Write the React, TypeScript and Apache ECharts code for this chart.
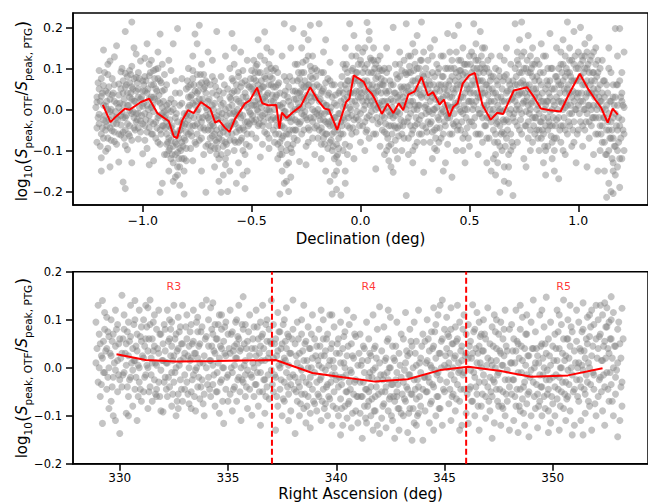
import React, { useEffect, useRef } from 'react';
import * as echarts from 'echarts';

// ---------- tick labels ----------
const decTicks = [-1, -0.5, 0, 0.5, 1];
const ratioTicksTop = [-0.2, -0.1, 0, 0.1, 0.2];
const raTicks = [330, 335, 340, 345, 350];
const ratioTicksBottom = [-0.2, -0.1, 0, 0.1, 0.2];

// ---------- running median (red) lines ----------
const decLineX = [-1.183, -1.148, -1.122, -1.081, -1.061, -1.008, -0.97, -0.933, -0.88, -0.857, -0.842, -0.819, -0.792, -0.766, -0.733, -0.69, -0.667, -0.649, -0.622, -0.601, -0.576, -0.531, -0.508, -0.475, -0.451, -0.425, -0.387, -0.372, -0.361, -0.339, -0.311, -0.274, -0.231, -0.198, -0.165, -0.145, -0.107, -0.066, -0.051, -0.031, 0.015, 0.03, 0.052, 0.067, 0.098, 0.124, 0.151, 0.176, 0.196, 0.219, 0.249, 0.28, 0.31, 0.333, 0.363, 0.383, 0.408, 0.426, 0.446, 0.469, 0.499, 0.525, 0.56, 0.598, 0.628, 0.655, 0.704, 0.765, 0.799, 0.828, 0.87, 0.919, 0.954, 1.007, 1.045, 1.083, 1.105, 1.135, 1.158, 1.181];
const decLineY = [0.011, -0.031, -0.017, 0.002, -0.001, 0.018, 0.026, -0.009, -0.029, -0.066, -0.07, -0.027, -0.002, -0.009, 0.018, 0.002, -0.032, -0.027, -0.045, -0.055, -0.023, 0.014, 0.022, 0.053, 0.015, 0.01, 0.011, -0.047, -0.008, -0.021, -0.007, 0.008, 0.054, 0.024, 0.002, -0.001, -0.05, 0.018, 0.026, 0.083, 0.067, 0.05, 0.038, 0.024, -0.011, 0.014, -0.009, 0.015, -0.002, 0.036, 0.044, 0.079, 0.034, 0.042, 0.012, 0.024, -0.017, 0.006, 0.015, 0.063, 0.083, 0.089, 0.011, -0.025, -0.008, -0.011, 0.046, 0.054, 0.028, 0.002, -0.002, -0.005, 0.034, 0.087, 0.05, 0.02, 0.004, -0.032, 0.002, -0.013];
const raLineX = [329.85, 331.2, 332.6, 334.5, 337.2, 338.9, 340.3, 341.8, 343.3, 344.8, 346.1, 347.6, 349.0, 350.7, 352.3];
const raLineY = [0.028, 0.016, 0.013, 0.014, 0.016, -0.011, -0.02, -0.029, -0.024, -0.005, 0.002, -0.007, -0.019, -0.016, -0.001];

// ---------- regions ----------
const regionNames = ['R3', 'R4', 'R5'];
const regionLabelRA = [332.5, 341.5, 350.5];
const regionLabelLevel = 0.169;
const regionBoundsRA = [337.03, 346.0];

// ---------- scatter: pairs [dec * 100, log-ratio * 1000] ----------
const decScatter = [
  -121,-45,-120,95,-120,-12,-119,32,-119,-118,-118,145,-118,58,-118,-70,-117,8,-117,-30,-116,110,-116,-95,-116,40,-115,-140,-115,-5,-114,75,-114,-52,-113,20,-113,128,-112,-20,-112,-85,-111,62,-111,-128,-111,5,-110,92,-110,-38,-110,-62,-112,155,-119,-150,-117,-102,-115,118,-113,-78,-121,18,
  -121,30,-121,-80,-120,50,-120,-35,-119,-60,-119,75,-118,-25,-118,10,-117,-50,-117,45,-116,-70,-116,0,-115,25,-115,-45,-114,-15,-114,35,-113,-55,-113,60,-112,-35,-112,15,-111,-60,-111,35,-110,-15,-110,50,-116,85,
  -109,12,-109,-55,-108,88,-108,-20,-108,190,-107,40,-107,-98,-106,-2,-106,65,-105,-130,-105,105,-105,25,-104,-45,-109,-177,-103,78,-103,-10,-103,135,-102,50,-102,-72,-105,213,-101,-28,-101,118,-100,8,-100,-108,-100,70,-108,-193,-106,-65,-104,150,-102,30,-108,-88,-105,55,
  -109,40,-109,-20,-108,-50,-108,55,-107,-35,-107,10,-107,80,-106,-40,-106,30,-105,-10,-105,-75,-104,20,-104,75,-103,-30,-103,45,-102,-10,-102,90,-101,-55,-101,25,-100,-35,-100,45,-104,-20,-106,95,-102,-45,-109,70,
  -99,45,-99,-40,-98,160,-98,10,-98,-95,-97,82,-97,-15,-96,120,-96,-60,-96,30,-95,-125,-95,60,-95,-5,-94,98,-94,-30,-93,140,-93,20,-93,-80,-92,184,-92,-50,-92,70,-92,-202,-91,5,-91,110,-90,-20,-90,-110,-90,48,-97,-135,-91,-180,-99,125,
  -99,-10,-99,80,-98,40,-98,-55,-97,25,-97,-45,-96,60,-96,5,-95,30,-95,-35,-94,50,-94,-70,-93,-20,-93,75,-92,15,-92,-85,-91,45,-91,-40,-90,85,-90,-5,-97,110,-93,100,-99,-75,-95,95,-91,-10,
  -89,-30,-89,60,-89,-110,-88,15,-88,-70,-88,-150,-87,95,-87,-45,-87,-5,-86,160,-86,-90,-86,-130,-85,-20,-85,-165,-85,40,-84,-60,-84,-105,-84,197,-83,-185,-83,10,-83,-140,-82,-35,-82,75,-82,-80,-81,-206,-81,-120,-81,-10,-80,50,-80,-55,-80,-95,-86,-175,-84,-160,-88,120,
  -89,-60,-89,10,-88,-40,-88,-100,-87,-75,-87,25,-86,-55,-86,0,-85,-80,-85,-110,-84,-30,-84,-140,-83,-95,-83,-50,-82,-120,-82,15,-81,-70,-81,-40,-80,-15,-80,-125,-87,-120,-85,70,-89,-85,-83,40,-81,-150,
  -79,30,-79,-60,-79,100,-78,-15,-78,60,-78,-95,-77,15,-77,130,-76,184,-76,-40,-76,45,-75,-5,-75,85,-74,205,-74,-75,-74,25,-73,-30,-73,110,-72,50,-72,-110,-71,-202,-71,5,-71,70,-70,-50,-70,140,-70,-20,-77,-125,-73,-150,-75,160,
  -79,-25,-79,55,-78,30,-78,-55,-77,-40,-77,75,-76,10,-76,-80,-75,40,-75,-35,-74,60,-74,-20,-73,-70,-73,15,-72,-45,-72,85,-71,-15,-71,40,-70,20,-70,-85,-77,95,-73,65,-79,5,-75,-60,-71,-90,
  -69,-40,-69,60,-69,-100,-68,10,-68,-65,-68,120,-67,-20,-67,-140,-66,190,-66,35,-66,-80,-65,-5,-65,-120,-64,80,-64,-45,-64,-202,-63,-160,-63,15,-63,-90,-62,-30,-62,130,-62,-120,-61,-200,-61,50,-61,-60,-60,-10,-60,-150,-60,100,-65,-175,-67,70,
  -69,-10,-69,-70,-68,40,-68,-35,-67,-95,-67,15,-66,-50,-66,-15,-65,-70,-65,45,-64,-20,-64,-110,-63,-55,-63,40,-62,-80,-62,0,-61,-40,-61,-105,-60,-75,-60,30,-67,-60,-64,10,-68,80,-62,-135,-66,-110,
  -59,185,-59,-30,-59,40,-58,-100,-58,110,-58,-5,-57,-180,-57,60,-57,-55,-56,20,-56,-130,-56,90,-55,-20,-55,140,-55,-75,-54,-45,-54,30,-53,-193,-53,-110,-53,70,-52,5,-52,-150,-52,120,-51,-35,-51,55,-50,-60,-50,95,-50,10,-54,-160,-58,150,
  -59,-60,-59,10,-58,-30,-58,45,-57,-15,-57,25,-56,-45,-56,-80,-55,15,-55,55,-54,-15,-54,-100,-53,-30,-53,40,-52,-60,-52,60,-51,-5,-51,-90,-50,-25,-50,50,-56,80,-58,-75,-54,95,-52,-30,-59,75,
  -49,40,-49,-30,-49,120,-48,70,-48,-70,-48,10,-47,170,-47,-5,-47,90,-46,-116,-46,50,-46,130,-45,-40,-45,25,-44,189,-44,80,-44,-10,-43,150,-43,-60,-43,35,-42,110,-42,-95,-42,0,-41,60,-41,-25,-41,140,-40,20,-40,-50,-40,95,-45,-85,
  -49,10,-49,75,-48,-25,-48,40,-47,-40,-47,60,-46,15,-46,90,-45,-15,-45,55,-44,30,-44,-55,-43,0,-43,95,-42,60,-42,-40,-41,20,-41,100,-40,-20,-40,55,-47,25,-44,120,-48,105,-42,-70,-46,-20,
  -39,30,-39,-60,-39,100,-38,-20,-38,-120,-38,60,-37,-206,-37,-80,-37,10,-36,-150,-36,-40,-36,130,-35,-180,-35,209,-35,-5,-34,-100,-34,70,-34,-60,-33,-200,-33,-130,-33,20,-32,-30,-32,150,-32,-165,-31,45,-31,-85,-31,197,-30,0,-30,110,-30,-50,-36,-110,-34,-175,
  -39,-25,-39,55,-38,10,-38,-85,-37,-40,-37,40,-36,-70,-36,5,-35,-45,-35,35,-34,-20,-34,-135,-33,-60,-33,55,-32,-95,-32,10,-31,-50,-31,70,-30,-25,-30,45,-37,-110,-35,80,-33,-20,-38,90,-31,-5,
  -29,40,-29,-30,-29,110,-28,-127,-28,75,-28,5,-27,150,-27,-60,-27,30,-26,185,-26,-15,-26,90,-25,-90,-25,55,-25,120,-24,-45,-24,10,-24,170,-23,80,-23,-20,-23,205,-22,130,-22,-70,-22,40,-21,-5,-21,100,-21,-110,-20,60,-20,-40,-25,-135,
  -29,0,-29,70,-28,40,-28,-35,-27,-10,-27,90,-26,55,-26,-50,-25,20,-25,-20,-24,60,-24,-80,-23,30,-23,105,-22,0,-22,75,-21,30,-21,-45,-20,-10,-20,95,-27,60,-24,130,-29,-75,-22,-30,-26,25,
  -19,209,-19,20,-19,-50,-18,90,-18,-10,-18,-120,-17,50,-17,-70,-17,140,-16,-30,-16,10,-16,-150,-15,75,-15,-95,-15,-5,-14,-40,-14,115,-14,-175,-13,-206,-13,-60,-13,30,-12,-120,-12,-20,-12,60,-11,-150,-11,-85,-11,-195,-10,-10,-10,-130,-10,40,-16,170,-12,-160,
  -19,-15,-19,55,-18,-45,-18,40,-17,-25,-17,15,-16,-60,-16,65,-15,-35,-15,35,-14,-80,-14,-5,-13,-100,-13,-25,-12,-55,-12,15,-11,-40,-11,-115,-10,-70,-10,-95,-17,90,-14,70,-18,-85,-13,60,-11,10,
  -9,-209,-9,-60,-9,20,-8,110,-8,-100,-8,-20,-7,60,-7,-150,-7,150,-6,-40,-6,30,-6,90,-5,209,-5,-90,-5,5,-4,130,-4,-15,-4,60,-3,-120,-3,40,-3,180,-2,90,-2,-55,-2,10,-1,150,-1,-25,-1,70,0,-80,0,30,0,120,-7,-180,
  -9,-30,-9,60,-8,40,-8,-60,-7,10,-7,-85,-6,70,-6,-10,-5,40,-5,-45,-4,95,-4,20,-3,-25,-3,75,-2,45,-2,-20,-1,110,-1,30,0,60,0,-10,-6,-110,-4,-60,-8,5,-2,130,-7,100,
  1,60,1,-40,1,140,2,100,2,10,2,-100,3,212,3,70,3,-20,4,170,4,30,4,-70,5,120,5,50,5,-5,6,90,6,-60,6,150,7,-145,7,40,7,110,8,5,8,80,8,-35,9,60,9,130,9,-90,10,20,10,-50,10,95,4,190,
  1,20,1,90,2,45,2,-30,3,110,3,20,4,60,4,-15,5,90,5,20,6,40,6,120,7,75,7,0,8,120,8,45,9,10,9,95,10,60,10,-15,3,-50,6,10,9,-30,2,150,7,-60,
  11,-20,11,70,11,-110,12,40,12,-60,12,150,13,-5,13,100,13,-90,14,-140,14,25,14,-40,15,-153,15,200,15,60,16,-15,16,-75,16,110,17,30,17,-120,17,-45,18,80,18,-10,18,140,19,-60,19,50,19,-100,20,10,20,-30,20,120,13,-125,
  11,20,11,-55,12,5,12,90,13,45,13,-40,14,60,14,-85,15,-20,15,20,16,40,16,-45,17,75,17,-5,18,-40,18,35,19,10,19,95,20,-70,20,55,12,-100,14,-10,16,-100,18,110,11,100,
  21,209,21,-210,21,40,22,-20,22,90,22,-70,23,60,23,130,23,-10,24,-100,24,20,24,160,25,70,25,-40,25,110,26,0,26,-80,26,180,27,50,27,-25,27,100,28,213,28,-60,28,30,29,-153,29,80,29,140,30,10,30,-45,30,60,24,-130,
  21,0,21,85,22,45,22,130,23,-40,23,20,24,70,24,-50,25,10,25,140,26,40,26,100,27,-60,27,10,28,70,28,-15,29,40,29,-80,30,100,30,-10,22,-110,26,-35,28,120,23,90,25,-90,
  31,120,31,-30,31,50,32,-80,32,20,32,150,33,-10,33,90,33,-120,34,40,34,-50,34,170,35,5,35,110,35,-100,36,-197,36,60,36,-25,37,130,37,-70,37,25,38,-150,38,80,38,-5,39,-40,39,100,39,-130,40,45,40,-85,40,185,
  31,0,31,85,32,-35,32,60,33,30,33,-55,34,80,34,0,35,-45,35,50,36,20,36,100,37,-10,37,60,38,30,38,-60,39,10,39,60,40,-20,40,100,33,130,36,-80,38,130,34,-95,40,10,
  41,-20,41,70,41,140,42,-165,42,30,42,-60,43,100,43,-10,43,180,44,50,44,-100,44,10,45,205,45,80,45,-40,46,120,46,-5,46,60,47,-70,47,150,47,30,48,-130,48,90,48,0,49,110,49,-45,49,50,50,-90,50,130,50,20,
  41,30,41,-60,42,80,42,5,43,40,43,-40,44,90,44,-30,45,20,45,120,46,-50,46,30,47,85,47,-10,48,40,48,-60,49,80,49,0,50,50,50,-30,42,120,44,140,46,95,48,110,47,-100,
  51,60,51,-30,51,140,52,209,52,100,52,10,53,-60,53,80,53,160,54,30,54,-110,54,120,55,-10,55,70,55,190,56,-80,56,40,56,110,57,-40,57,0,57,150,58,-130,58,60,58,-20,59,90,59,-70,59,20,60,-150,60,-30,60,130,
  51,20,51,90,52,40,52,-40,53,120,53,20,54,70,54,0,55,100,55,30,56,70,56,-20,57,40,57,100,58,10,58,100,59,50,59,-20,60,20,60,80,52,130,54,-60,56,150,58,-70,55,-60,
  61,-50,61,40,61,-120,62,100,62,-20,62,-160,63,60,63,-80,63,10,64,-202,64,-40,64,130,65,-100,65,20,65,-5,66,80,66,-140,66,-60,67,150,67,-25,67,40,68,-110,68,-180,68,70,69,0,69,-60,69,110,70,-210,70,30,70,-90,71,209,66,-175,
  61,0,61,80,62,40,62,-60,63,-30,63,30,64,0,64,-90,65,50,65,-55,66,20,66,-30,67,-70,67,85,68,-30,68,20,69,50,69,-100,70,-20,70,70,62,-110,64,80,66,120,68,-140,63,-130,
  71,60,71,-30,72,120,72,10,72,-80,73,170,73,40,73,-50,74,213,74,90,74,-10,75,-120,75,60,75,140,76,20,76,-40,76,100,77,180,77,-70,77,50,78,0,78,130,78,-100,79,80,79,-20,79,150,80,30,80,-60,80,110,76,-140,
  71,20,71,100,72,60,72,-40,73,0,73,90,74,40,74,-60,75,20,75,100,76,60,76,-5,77,10,77,90,78,40,78,-50,79,110,79,20,80,-20,80,70,72,140,74,130,77,-30,79,-80,78,90,
  81,40,81,-50,81,120,82,-10,82,-100,82,70,83,160,83,-30,83,20,84,-130,84,90,84,-60,85,10,85,-160,85,130,86,-20,86,60,86,-90,87,185,87,-40,87,30,88,-120,88,100,88,0,89,-70,89,50,89,-150,90,-25,90,80,90,150,
  81,0,81,80,82,30,82,-50,83,-70,83,60,84,20,84,-20,85,50,85,-40,86,-50,86,100,87,-5,87,70,88,-40,88,50,89,10,89,-100,90,30,90,-70,82,110,84,130,86,20,88,-80,85,-100,
  91,-169,91,60,91,-20,92,110,92,20,92,-80,93,170,93,-40,93,70,94,5,94,130,94,-110,95,213,95,50,95,-60,96,90,96,-10,96,150,97,30,97,-90,97,120,98,-30,98,70,98,190,99,-130,99,40,99,100,100,-50,100,10,100,140,
  91,20,91,100,92,60,92,-40,93,0,93,110,94,40,94,-50,95,10,95,90,96,40,96,-40,97,70,97,-10,98,20,98,110,99,0,99,70,100,40,100,100,92,140,94,80,96,120,98,-80,93,-100,
  101,80,101,-30,101,200,102,120,102,20,102,-90,103,60,103,160,103,-50,104,-10,104,100,104,-140,105,40,105,175,105,-70,106,130,106,0,106,70,107,-110,107,50,107,-20,108,110,108,-60,108,150,109,10,109,-150,109,90,110,-40,110,60,110,-100,
  101,20,101,110,102,60,102,-40,103,0,103,100,104,40,104,140,105,10,105,90,106,40,106,-40,107,90,107,10,108,40,108,-20,109,50,109,120,110,20,110,100,103,130,105,-30,107,140,109,-60,104,70,
  111,40,111,-80,111,120,112,-20,112,-150,112,70,113,-214,113,10,113,-110,114,150,114,-50,114,-180,115,-200,115,90,115,-30,116,-130,116,30,116,-70,117,197,117,-10,117,-160,118,60,118,-100,118,130,119,197,119,-40,119,-190,120,20,120,-120,120,90,121,-60,121,140,116,-205,
  111,0,111,-40,112,30,112,-80,113,60,113,-50,114,-10,114,-100,115,20,115,-70,116,-20,116,60,117,-90,117,30,118,-50,118,10,119,-120,119,70,120,-25,120,40,121,-100,121,5,114,100,116,-150,118,-140,
];

// denser core of the declination cloud, same units
const decScatterCore = [
  -121.5,5,-120.5,-20,-120.5,65,-119.5,20,-119.5,-90,-118.5,-45,-118.5,40,-117.5,-15,-117.5,90,-116.5,20,-116.5,-40,-115.5,55,-115.5,-25,-114.5,0,-114.5,-75,-113.5,40,-113.5,-35,-112.5,-5,-111.5,-25,-110.5,15,
  -109.5,-5,-108.5,25,-108.5,-70,-107.5,60,-107.5,-15,-106.5,10,-106.5,-60,-105.5,40,-105.5,85,-104.5,-5,-104.5,50,-103.5,-50,-103.5,20,-102.5,65,-102.5,-25,-101.5,5,-101.5,75,-100.5,-15,-100.5,30,-109.5,100,
  -99.5,15,-99.5,60,-98.5,-25,-98.5,70,-97.5,0,-97.5,50,-96.5,-30,-96.5,90,-95.5,10,-95.5,-60,-94.5,25,-94.5,75,-93.5,-45,-93.5,45,-92.5,-15,-92.5,35,-91.5,65,-91.5,-60,-90.5,20,-90.5,-40,
  -89.5,-15,-89.5,-45,-88.5,-80,-88.5,0,-87.5,-25,-87.5,-95,-86.5,-40,-86.5,-110,-85.5,-60,-85.5,15,-84.5,-85,-84.5,-10,-83.5,-70,-83.5,-120,-82.5,-50,-82.5,-100,-81.5,-25,-81.5,-90,-80.5,-75,-80.5,-35,
  -79.5,-10,-79.5,70,-78.5,10,-78.5,-40,-77.5,-65,-77.5,35,-76.5,-20,-76.5,60,-75.5,20,-75.5,-85,-74.5,0,-74.5,45,-73.5,-45,-73.5,85,-72.5,25,-72.5,-20,-71.5,55,-71.5,-50,-70.5,0,-70.5,65,
  -69.5,-25,-69.5,25,-68.5,-50,-68.5,-90,-67.5,0,-67.5,-40,-66.5,55,-66.5,-75,-65.5,-25,-65.5,-95,-64.5,-60,-64.5,25,-63.5,-10,-63.5,-75,-62.5,-45,-62.5,60,-61.5,-15,-61.5,-85,-60.5,-45,-60.5,5,
  -59.5,-40,-59.5,25,-58.5,-10,-58.5,70,-57.5,-35,-57.5,-80,-56.5,0,-56.5,45,-55.5,-50,-55.5,-10,-54.5,65,-54.5,-70,-53.5,10,-53.5,-50,-52.5,30,-52.5,-85,-51.5,20,-51.5,-40,-50.5,75,-50.5,-10,
  -49.5,55,-49.5,-15,-48.5,90,-48.5,20,-47.5,0,-47.5,110,-46.5,40,-46.5,-35,-45.5,70,-45.5,5,-44.5,55,-44.5,-30,-43.5,20,-43.5,75,-42.5,-20,-42.5,40,-41.5,80,-41.5,-5,-40.5,35,-40.5,75,
  -39.5,0,-39.5,-80,-38.5,35,-38.5,-40,-37.5,-60,-37.5,65,-36.5,-20,-36.5,-95,-35.5,15,-35.5,-65,-34.5,45,-34.5,-5,-33.5,-85,-33.5,30,-32.5,-50,-32.5,80,-31.5,-20,-31.5,-105,-30.5,25,-30.5,-70,
  -29.5,25,-29.5,-50,-28.5,90,-28.5,15,-27.5,45,-27.5,-30,-26.5,5,-26.5,115,-25.5,70,-25.5,-5,-24.5,35,-24.5,-25,-23.5,60,-23.5,-50,-22.5,20,-22.5,95,-21.5,55,-21.5,-20,-20.5,30,-20.5,80,
  -19.5,0,-19.5,-70,-18.5,25,-18.5,-25,-17.5,-55,-17.5,45,-16.5,-10,-16.5,-85,-15.5,10,-15.5,-60,-14.5,-30,-14.5,40,-13.5,-75,-13.5,5,-12.5,-40,-12.5,-90,-11.5,-20,-11.5,35,-10.5,-50,-10.5,-110,
  -9.5,-10,-9.5,45,-8.5,80,-8.5,-40,-7.5,25,-7.5,-25,-6.5,50,-6.5,110,-5.5,-20,-5.5,70,-4.5,0,-4.5,40,-3.5,100,-3.5,-45,-2.5,20,-2.5,70,-1.5,-5,-1.5,90,-0.5,45,-0.5,-40,
  0.5,40,0.5,110,1.5,0,1.5,70,2.5,30,2.5,-55,3.5,90,3.5,45,4.5,10,4.5,125,5.5,60,5.5,-25,6.5,100,6.5,25,7.5,55,7.5,-20,8.5,100,8.5,15,9.5,75,9.5,40,
  10.5,0,10.5,60,11.5,-35,11.5,45,12.5,-70,12.5,20,13.5,70,13.5,-15,14.5,5,14.5,-60,15.5,40,15.5,-40,16.5,85,16.5,-5,17.5,-65,17.5,20,18.5,55,18.5,-25,19.5,-40,19.5,30,
  20.5,20,20.5,90,21.5,-30,21.5,55,22.5,10,22.5,105,23.5,40,23.5,-60,24.5,0,24.5,95,25.5,50,25.5,-20,26.5,75,26.5,10,27.5,120,27.5,35,28.5,-40,28.5,85,29.5,5,29.5,60,
  30.5,30,30.5,-55,31.5,70,31.5,-5,32.5,40,32.5,-30,33.5,0,33.5,60,34.5,-70,34.5,25,35.5,90,35.5,-20,36.5,45,36.5,-45,37.5,80,37.5,0,38.5,-30,38.5,50,39.5,-15,39.5,35,
  40.5,60,40.5,-10,41.5,100,41.5,5,42.5,50,42.5,-35,43.5,70,43.5,15,44.5,-50,44.5,60,45.5,0,45.5,95,46.5,-30,46.5,70,47.5,10,47.5,110,48.5,-20,48.5,60,49.5,20,49.5,-70,
  50.5,40,50.5,110,51.5,0,51.5,70,52.5,60,52.5,-20,53.5,100,53.5,40,54.5,-10,54.5,90,55.5,50,55.5,130,56.5,10,56.5,90,57.5,60,57.5,-40,58.5,120,58.5,35,59.5,0,59.5,70,
  60.5,-10,60.5,50,61.5,-80,61.5,20,62.5,70,62.5,-35,63.5,-5,63.5,95,64.5,-60,64.5,30,65.5,-25,65.5,70,66.5,-90,66.5,0,67.5,45,67.5,-50,68.5,-10,68.5,60,69.5,-80,69.5,25,
  70.5,40,70.5,-10,71.5,80,71.5,0,72.5,35,72.5,110,73.5,65,73.5,-25,74.5,15,74.5,70,75.5,-40,75.5,40,76.5,120,76.5,30,77.5,-10,77.5,60,78.5,100,78.5,15,79.5,50,79.5,-40,
  80.5,-20,80.5,50,81.5,10,81.5,-70,82.5,90,82.5,-30,83.5,40,83.5,-50,84.5,0,84.5,-90,85.5,70,85.5,20,86.5,-30,86.5,40,87.5,-65,87.5,100,88.5,20,88.5,-20,89.5,80,89.5,-40,
  90.5,0,90.5,70,91.5,40,91.5,-50,92.5,90,92.5,15,93.5,50,93.5,-20,94.5,100,94.5,20,95.5,-30,95.5,60,96.5,10,96.5,80,97.5,-50,97.5,45,98.5,130,98.5,0,99.5,30,99.5,-60,
  100.5,70,100.5,-10,101.5,40,101.5,130,102.5,0,102.5,90,103.5,30,103.5,-30,104.5,110,104.5,10,105.5,60,105.5,120,106.5,-20,106.5,90,107.5,30,107.5,70,108.5,0,108.5,80,109.5,30,109.5,-20,
  110.5,20,110.5,-60,111.5,-20,111.5,70,112.5,0,112.5,-110,113.5,-30,113.5,40,114.5,-70,114.5,20,115.5,-50,115.5,-120,116.5,10,116.5,-90,117.5,-40,117.5,60,118.5,-80,118.5,-20,119.5,30,119.5,-70,120.5,-50,120.5,10,
];

// ---------- scatter: pairs [RA * 10, log-ratio * 1000] ----------
const raScatter = [
  3289,10,3289,95,3290,-30,3290,130,3291,50,3291,-60,3292,20,3292,-116,3293,80,3293,-10,3293,115,3294,40,3294,-45,3295,-85,3295,65,3295,0,3296,100,3296,25,3297,-20,3297,70,3297,-100,3298,45,3298,120,3298,-5,3299,-50,3299,90,3299,15,3300,-137,3300,60,3300,-25,3292,140,3294,105,3296,-70,3298,-110,
  3301,151,3301,30,3301,-40,3302,80,3302,-10,3302,110,3303,-95,3303,50,3303,5,3304,-60,3304,95,3304,25,3305,-20,3305,130,3305,65,3306,-80,3306,40,3306,-5,3307,100,3307,-45,3307,15,3308,70,3308,-110,3308,35,3309,-30,3309,120,3309,0,3310,55,3310,-70,3310,85,3304,-100,3307,140,
  3311,20,3311,-50,3311,100,3312,60,3312,-15,3312,130,3313,-85,3313,35,3313,0,3314,90,3314,-40,3314,141,3315,10,3315,-70,3315,60,3316,-25,3316,110,3316,45,3317,-60,3317,80,3317,5,3318,-30,3318,120,3318,30,3319,-90,3319,70,3319,-5,3320,50,3320,-92,3320,15,3313,125,3317,-45,
  3321,-20,3321,80,3321,35,3322,-60,3322,120,3322,10,3323,60,3323,-40,3323,100,3324,-10,3324,45,3324,-80,3325,130,3325,25,3325,-30,3326,-100,3326,70,3326,0,3327,40,3327,-55,3327,105,3328,15,3328,-25,3328,85,3329,-70,3329,50,3329,130,3330,-15,3330,30,3330,-45,3324,95,3327,-85,
  3331,60,3331,-30,3331,110,3332,0,3332,-75,3332,45,3333,90,3333,-50,3333,20,3334,-15,3334,120,3334,55,3335,-90,3335,30,3335,-5,3336,75,3336,-40,3336,105,3337,10,3337,-65,3337,50,3338,-25,3338,85,3338,130,3339,-55,3339,25,3339,-100,3340,65,3340,0,3340,141,3333,-85,3336,20,
  3341,-20,3341,45,3341,100,3342,-60,3342,15,3342,125,3343,70,3343,-35,3343,5,3344,90,3344,-80,3344,30,3345,-10,3345,60,3345,-50,3346,110,3346,20,3346,-95,3347,40,3347,-25,3347,80,3348,-116,3348,0,3348,55,3349,-45,3349,95,3349,25,3350,-15,3350,70,3350,-70,3343,135,3347,110,
  3351,30,3351,-55,3351,120,3352,-10,3352,75,3352,-90,3353,45,3353,5,3353,-40,3354,100,3354,-70,3354,20,3355,60,3355,-20,3355,130,3356,-110,3356,40,3356,0,3357,148,3357,80,3357,-30,3358,-60,3358,15,3358,90,3359,-5,3359,55,3359,-85,3360,25,3360,-45,3360,110,3354,50,3358,-15,
  3361,-99,3361,40,3361,-20,3362,85,3362,0,3362,-60,3363,120,3363,25,3363,-35,3364,60,3364,-80,3364,10,3365,95,3365,-10,3365,45,3366,-50,3366,130,3366,70,3367,-25,3367,15,3367,-95,3368,55,3368,100,3368,-40,3369,30,3369,-65,3369,80,3370,-5,3370,140,3370,50,3372,-130,3365,-120,
  3371,20,3371,-50,3371,90,3372,60,3372,-20,3373,-80,3373,35,3373,115,3374,0,3374,-45,3374,75,3375,-100,3375,50,3375,10,3376,-30,3376,100,3376,-70,3377,40,3377,-10,3377,125,3378,-55,3378,65,3378,5,3379,-90,3379,30,3379,-35,3380,141,3380,80,3380,-15,3376,20,3378,-110,
  3381,-137,3381,-20,3381,50,3382,10,3382,-70,3382,95,3383,-40,3383,30,3383,-100,3384,70,3384,-5,3384,-55,3385,130,3385,15,3385,-85,3386,-30,3386,55,3386,-115,3387,0,3387,85,3387,-60,3388,40,3388,-20,3388,-95,3389,110,3389,-45,3389,20,3390,-75,3390,60,3390,-10,3384,100,3388,-125,
  3391,-30,3391,45,3391,-90,3392,80,3392,-60,3392,5,3393,-110,3393,25,3393,-20,3394,100,3394,-45,3394,60,3395,-75,3395,-5,3395,35,3396,-100,3396,70,3396,-35,3397,15,3397,-65,3397,110,3398,-15,3398,50,3398,-120,3399,85,3399,-50,3399,0,3400,-85,3400,30,3400,-25,3398,110,3393,120,
  3401,-40,3401,60,3401,-100,3402,10,3402,-65,3402,95,3403,-20,3403,-120,3403,40,3404,-80,3404,75,3404,0,3405,-50,3405,25,3405,-105,3406,90,3406,-30,3406,-70,3407,50,3407,-10,3407,-125,3408,20,3408,-55,3408,105,3409,-90,3409,-25,3409,65,3410,-60,3410,5,3410,-115,3405,120,3402,-140,
  3411,-30,3411,70,3411,-95,3412,-60,3412,15,3412,-147,3413,40,3413,-80,3413,-10,3414,95,3414,-45,3414,-115,3415,-20,3415,60,3415,-70,3416,-100,3416,25,3416,-40,3417,110,3417,-130,3417,-5,3418,-60,3418,45,3418,-90,3419,-25,3419,80,3419,-120,3420,127,3420,-137,3420,10,3415,-50,3418,0,
  3421,-50,3421,35,3421,-105,3422,-15,3422,85,3422,-75,3423,-40,3423,-125,3423,20,3424,60,3424,-90,3424,-25,3425,-60,3425,105,3425,0,3426,-110,3426,45,3426,-35,3427,-147,3427,-70,3427,15,3428,95,3428,-50,3428,-10,3429,-85,3429,30,3429,-130,3430,70,3430,-20,3430,-95,3424,120,3428,-60,
  3431,-30,3431,60,3431,-100,3432,10,3432,-70,3432,115,3433,-45,3433,-135,3433,25,3434,80,3434,-15,3434,-85,3435,45,3435,-55,3435,-151,3436,-25,3436,95,3436,-115,3437,5,3437,-65,3437,55,3438,-40,3438,120,3438,-95,3439,20,3439,-80,3439,-10,3440,-151,3440,70,3440,-45,3434,30,3437,-120,
  3441,-20,3441,55,3441,-90,3442,100,3442,-50,3442,15,3443,-115,3443,35,3443,-30,3444,75,3444,-70,3444,0,3445,125,3445,-40,3445,45,3446,-100,3446,20,3446,90,3447,-10,3447,-60,3447,110,3448,30,3448,-85,3448,-25,3449,141,3449,60,3449,-120,3450,5,3450,-50,3450,80,3445,-130,3448,130,
  3451,40,3451,-30,3451,105,3452,-75,3452,10,3452,65,3453,-110,3453,-15,3453,125,3454,50,3454,-55,3454,0,3455,85,3455,-90,3455,25,3456,-35,3456,130,3456,60,3457,-5,3457,-70,3457,95,3458,15,3458,-120,3458,45,3459,-45,3459,110,3459,-10,3460,70,3460,-95,3460,30,3453,80,3457,-130,
  3461,-116,3461,20,3461,90,3462,-40,3462,55,3462,-5,3463,131,3463,-70,3463,30,3464,-20,3464,80,3464,-100,3465,10,3465,115,3465,-55,3466,45,3466,-30,3466,-130,3467,70,3467,0,3467,-80,3468,100,3468,-15,3468,35,3469,-60,3469,60,3469,-105,3470,20,3470,-40,3470,125,3472,-147,3466,95,
  3471,-20,3471,50,3471,-90,3472,85,3472,5,3472,-60,3473,-30,3473,110,3473,-115,3474,40,3474,-45,3474,15,3475,-80,3475,70,3475,-10,3476,-120,3476,30,3476,95,3477,-50,3477,5,3477,60,3478,-100,3478,-25,3478,120,3479,35,3479,-70,3479,-5,3480,80,3480,-40,3480,-130,3474,100,3477,-85,
  3481,10,3481,-55,3481,90,3482,-25,3482,60,3482,-110,3483,35,3483,-80,3483,120,3484,-10,3484,-135,3484,50,3485,-45,3485,80,3485,-90,3486,15,3486,-65,3486,105,3487,-30,3487,40,3487,-120,3488,70,3488,-15,3488,-75,3489,-144,3489,25,3489,-50,3490,95,3490,-5,3490,-100,3485,130,3488,110,
  3491,141,3491,-30,3491,40,3492,-85,3492,10,3492,75,3493,-55,3493,-125,3493,25,3494,110,3494,-15,3494,-70,3495,50,3495,-40,3495,-100,3496,85,3496,0,3496,-60,3497,147,3497,-25,3497,30,3498,-90,3498,60,3498,-45,3499,5,3499,-115,3499,95,3500,-20,3500,-75,3500,45,3495,120,3498,-135,
  3501,70,3501,-40,3501,-100,3502,15,3502,-65,3502,120,3503,-20,3503,40,3503,-130,3504,90,3504,-50,3504,0,3505,-85,3505,60,3505,141,3506,-30,3506,25,3506,-110,3507,100,3507,-60,3507,-5,3508,45,3508,-90,3508,130,3509,-15,3509,75,3509,-140,3510,35,3510,-45,3510,-120,3503,110,3507,60,
  3511,-25,3511,55,3511,120,3512,-70,3512,10,3512,95,3513,-110,3513,35,3513,-40,3514,80,3514,-5,3514,135,3515,-55,3515,20,3515,-95,3516,105,3516,50,3516,-30,3517,-80,3517,65,3517,0,3518,-130,3518,120,3518,25,3519,-45,3519,90,3519,-15,3520,60,3520,-100,3520,130,3514,-140,3517,110,
  3521,40,3521,-60,3521,100,3522,-20,3522,130,3522,70,3523,-90,3523,15,3523,110,3524,-40,3524,55,3524,-120,3525,85,3525,-10,3525,125,3526,-70,3526,30,3526,95,3527,148,3527,-35,3527,60,3528,0,3528,-100,3528,115,3529,45,3529,-55,3529,-20,3530,-144,3530,80,3530,10,3531,-110,3531,50,3532,124,3532,-30,3532,-80,3527,100,3524,135,
];

// denser core of the right-ascension cloud, same units
const raScatterCore = [
  3289.5,40,3290.5,70,3290.5,0,3291.5,25,3291.5,-35,3292.5,55,3292.5,-10,3293.5,35,3294.5,75,3294.5,-20,3295.5,30,3296.5,-40,3296.5,55,3297.5,10,3298.5,80,3299.5,-15,3299.5,50,3300.5,20,
  3301.5,60,3301.5,-15,3302.5,30,3303.5,-40,3303.5,75,3304.5,55,3304.5,-25,3305.5,10,3306.5,90,3306.5,15,3307.5,-20,3307.5,45,3308.5,-60,3308.5,5,3309.5,65,3309.5,-45,3310.5,25,
  3311.5,45,3311.5,-20,3312.5,85,3312.5,5,3313.5,-50,3313.5,60,3314.5,20,3314.5,-15,3315.5,95,3315.5,35,3316.5,-55,3316.5,10,3317.5,40,3318.5,-60,3318.5,70,3319.5,15,3320.5,-30,3320.5,90,
  3321.5,10,3321.5,-45,3322.5,55,3322.5,-20,3323.5,25,3323.5,80,3324.5,-55,3324.5,15,3325.5,60,3325.5,-10,3326.5,35,3326.5,-70,3327.5,75,3327.5,5,3328.5,-45,3328.5,50,3329.5,20,3330.5,85,
  3331.5,25,3331.5,-55,3332.5,75,3332.5,15,3333.5,-25,3333.5,50,3334.5,-60,3334.5,30,3335.5,95,3335.5,0,3336.5,-20,3336.5,45,3337.5,75,3337.5,-40,3338.5,10,3338.5,-75,3339.5,60,3340.5,-35,
  3341.5,15,3341.5,-45,3342.5,45,3342.5,80,3343.5,-15,3343.5,35,3344.5,-50,3344.5,60,3345.5,10,3345.5,90,3346.5,-30,3346.5,45,3347.5,0,3347.5,-70,3348.5,30,3348.5,85,3349.5,-20,3350.5,40,
  3351.5,0,3351.5,70,3352.5,35,3352.5,-45,3353.5,95,3353.5,20,3354.5,-25,3354.5,65,3355.5,-50,3355.5,35,3356.5,-25,3356.5,90,3357.5,5,3357.5,50,3358.5,-40,3358.5,40,3359.5,75,3360.5,-15,
  3361.5,10,3361.5,60,3362.5,-35,3362.5,40,3363.5,-10,3363.5,85,3364.5,30,3364.5,-50,3365.5,65,3365.5,15,3366.5,-25,3366.5,40,3367.5,90,3367.5,-60,3368.5,20,3368.5,-15,3369.5,55,3370.5,-35,
  3371.5,-15,3371.5,50,3372.5,25,3372.5,-60,3373.5,75,3373.5,5,3374.5,-25,3374.5,40,3375.5,-65,3375.5,90,3376.5,15,3376.5,55,3377.5,-40,3377.5,70,3378.5,-20,3378.5,30,3379.5,60,3380.5,-45,
  3381.5,-50,3381.5,25,3382.5,-30,3382.5,60,3383.5,0,3383.5,-75,3384.5,35,3384.5,-20,3385.5,-55,3385.5,50,3386.5,15,3386.5,-80,3387.5,-35,3387.5,40,3388.5,70,3388.5,0,3389.5,-70,3390.5,25,
  3391.5,-55,3391.5,15,3392.5,-25,3392.5,45,3393.5,-70,3393.5,0,3394.5,25,3394.5,-85,3395.5,-40,3395.5,60,3396.5,5,3396.5,-60,3397.5,-30,3397.5,40,3398.5,-80,3398.5,15,3399.5,-15,3400.5,50,
  3401.5,-20,3401.5,30,3402.5,-85,3402.5,-35,3403.5,10,3403.5,65,3404.5,-50,3404.5,-15,3405.5,45,3405.5,-75,3406.5,-5,3406.5,-45,3407.5,25,3407.5,-95,3408.5,-30,3408.5,70,3409.5,-60,3410.5,30,
  3411.5,-60,3411.5,5,3412.5,-30,3412.5,45,3413.5,-105,3413.5,-45,3414.5,15,3414.5,-80,3415.5,-10,3415.5,30,3416.5,-65,3416.5,-20,3417.5,40,3417.5,-90,3418.5,-40,3418.5,20,3419.5,-55,3420.5,-15,
  3421.5,-25,3421.5,-80,3422.5,15,3422.5,-50,3423.5,55,3423.5,-10,3424.5,-65,3424.5,0,3425.5,-35,3425.5,-100,3426.5,20,3426.5,-60,3427.5,-25,3427.5,45,3428.5,-85,3428.5,-35,3429.5,5,3430.5,-55,
  3431.5,-5,3431.5,-65,3432.5,35,3432.5,-40,3433.5,-95,3433.5,-15,3434.5,55,3434.5,-55,3435.5,0,3435.5,-85,3436.5,-45,3436.5,30,3437.5,-25,3437.5,-100,3438.5,10,3438.5,-60,3439.5,45,3440.5,-20,
  3441.5,10,3441.5,-50,3442.5,-20,3442.5,60,3443.5,-75,3443.5,5,3444.5,40,3444.5,-35,3445.5,-5,3445.5,75,3446.5,-60,3446.5,-15,3447.5,30,3447.5,-85,3448.5,55,3448.5,0,3449.5,-45,3450.5,25,
  3451.5,0,3451.5,70,3452.5,-45,3452.5,30,3453.5,50,3453.5,-60,3454.5,20,3454.5,-25,3455.5,55,3455.5,-65,3456.5,10,3456.5,-10,3457.5,35,3457.5,-45,3458.5,80,3458.5,-15,3459.5,25,3460.5,-55,
  3461.5,-45,3461.5,45,3462.5,20,3462.5,-70,3463.5,-10,3463.5,75,3464.5,40,3464.5,-40,3465.5,-80,3465.5,30,3466.5,10,3466.5,65,3467.5,-55,3467.5,35,3468.5,-30,3468.5,70,3469.5,5,3470.5,-70,
  3471.5,15,3471.5,-50,3472.5,-25,3472.5,45,3473.5,0,3473.5,75,3474.5,-70,3474.5,-15,3475.5,35,3475.5,-45,3476.5,5,3476.5,-80,3477.5,80,3477.5,25,3478.5,-55,3478.5,45,3479.5,-25,3480.5,10,
  3481.5,-25,3481.5,35,3482.5,-60,3482.5,10,3483.5,-45,3483.5,55,3484.5,20,3484.5,-80,3485.5,-10,3485.5,45,3486.5,-40,3486.5,-95,3487.5,5,3487.5,70,3488.5,-55,3488.5,25,3489.5,-20,3490.5,40,
  3491.5,0,3491.5,-60,3492.5,-35,3492.5,40,3493.5,10,3493.5,-80,3494.5,45,3494.5,-40,3495.5,-15,3495.5,20,3496.5,-85,3496.5,50,3497.5,-55,3497.5,-5,3498.5,25,3498.5,-25,3499.5,-60,3500.5,15,
  3501.5,-15,3501.5,40,3502.5,-45,3502.5,75,3503.5,0,3503.5,-80,3504.5,30,3504.5,-30,3505.5,-55,3505.5,15,3506.5,60,3506.5,-65,3507.5,20,3507.5,-35,3508.5,0,3508.5,85,3509.5,-50,3510.5,10,
  3511.5,0,3511.5,-60,3512.5,40,3512.5,-25,3513.5,75,3513.5,5,3514.5,-45,3514.5,35,3515.5,-15,3515.5,60,3516.5,-70,3516.5,10,3517.5,-35,3517.5,85,3518.5,-10,3518.5,45,3519.5,-75,3520.5,20,
  3521.5,-25,3521.5,65,3522.5,15,3522.5,-50,3523.5,45,3523.5,-15,3524.5,85,3524.5,20,3525.5,-45,3525.5,40,3526.5,-10,3526.5,60,3527.5,20,3527.5,-70,3528.5,45,3529.5,-5,3530.5,95,3531.5,-40,3531.5,20,3532.5,60,
];

const FONT = 'DejaVu Sans';

function toPairs(flat: number[], sx: number, sy: number): number[][] {
  const out: number[][] = [];
  for (let i = 0; i + 1 < flat.length; i += 2) out.push([flat[i] / sx, flat[i + 1] / sy]);
  return out;
}
function zip(xs: number[], ys: number[]): number[][] {
  return xs.map((x, i) => [x, ys[i]]);
}
function fmt1(v: number): string {
  const r = Math.round(v * 10) / 10;
  const s = Math.abs(r).toFixed(1);
  return r < 0 ? '\u2212' + s : s;
}

const yTitle = '{n|log}{s|10}{p|(}{i|S}{s|peak, OTF}{n|/}{i|S}{s|peak, PTG}{p|)}';
const yTitleRich = {
  n: { fontFamily: FONT, fontSize: 15, lineHeight: 22, verticalAlign: 'middle', fill: '#000' },
  i: { fontFamily: FONT, fontSize: 15, fontStyle: 'italic', lineHeight: 22, verticalAlign: 'middle', fill: '#000' },
  p: { fontFamily: FONT, fontSize: 18, lineHeight: 22, verticalAlign: 'middle', fill: '#000' },
  s: { fontFamily: FONT, fontSize: 10.5, lineHeight: 11, verticalAlign: 'bottom', fill: '#000' },
};

export default function App() {
  const ref = useRef<HTMLDivElement>(null);
  useEffect(() => {
    if (!ref.current) return;
    const chart = echarts.init(ref.current, undefined, { renderer: 'svg' });
    const axisLine = { show: true, onZero: false, lineStyle: { color: '#000', width: 1.5 } };
    const tick = (vals: number[], len: number) => ({
      show: true, length: len, customValues: vals, lineStyle: { color: '#000', width: 1.5 },
    });
    const pointStyle = { color: 'rgba(128,128,128,0.58)' };
    const option: any = {
      animation: false,
      backgroundColor: '#fff',
      textStyle: { fontFamily: FONT },
      grid: [
        { left: 73, top: 13, right: -6, height: 192, show: true, borderColor: '#000', borderWidth: 1.5, backgroundColor: 'rgba(0,0,0,0)' },
        { left: 73, top: 271.7, right: -2, height: 192, show: true, borderColor: '#000', borderWidth: 1.5, backgroundColor: 'rgba(0,0,0,0)' },
      ],
      xAxis: [
        {
          type: 'value', gridIndex: 0, min: -1.32, max: 1.32,
          axisLine, axisTick: tick(decTicks, 7), splitLine: { show: false },
          axisLabel: { customValues: decTicks, formatter: (v: number) => fmt1(v), fontSize: 12.5, color: '#000', margin: 9, fontFamily: FONT },
          name: 'Declination (deg)', nameLocation: 'middle', nameGap: 26,
          nameTextStyle: { fontSize: 15, color: '#000', fontFamily: FONT },
        },
        {
          type: 'value', gridIndex: 1, min: 327.84, max: 354.4,
          axisLine, axisTick: tick(raTicks, 7), splitLine: { show: false },
          axisLabel: { customValues: raTicks, formatter: (v: number) => String(Math.round(v)), fontSize: 12, color: '#000', margin: 8, fontFamily: FONT },
          name: 'Right Ascension (deg)', nameLocation: 'middle', nameGap: 23,
          nameTextStyle: { fontSize: 15, color: '#000', fontFamily: FONT },
        },
      ],
      yAxis: [
        {
          type: 'value', gridIndex: 0, min: -0.233, max: 0.235,
          axisLine, axisTick: tick(ratioTicksTop, 7), splitLine: { show: false },
          axisLabel: { customValues: ratioTicksTop, formatter: (v: number) => fmt1(v), fontSize: 12.5, color: '#000', margin: 10, fontFamily: FONT },
        },
        {
          type: 'value', gridIndex: 1, min: -0.2, max: 0.2,
          axisLine, axisTick: tick(ratioTicksBottom, 7), splitLine: { show: false },
          axisLabel: { customValues: ratioTicksBottom, formatter: (v: number) => fmt1(v), fontSize: 11.5, color: '#000', margin: 11, fontFamily: FONT },
        },
      ],
      graphic: [
        {
          type: 'text', x: 22, y: 111, rotation: Math.PI / 2,
          style: { text: yTitle, rich: yTitleRich, align: 'center', verticalAlign: 'middle', fill: '#000' },
        },
        {
          type: 'text', x: 22, y: 368, rotation: Math.PI / 2,
          style: { text: yTitle, rich: yTitleRich, align: 'center', verticalAlign: 'middle', fill: '#000' },
        },
      ],
      series: [
        {
          type: 'scatter', xAxisIndex: 0, yAxisIndex: 0,
          data: toPairs(decScatter, 100, 1000).concat(toPairs(decScatterCore, 100, 1000)),
          symbolSize: 7, itemStyle: pointStyle, silent: true, z: 1, large: false,
        },
        {
          type: 'line', xAxisIndex: 0, yAxisIndex: 0, data: zip(decLineX, decLineY),
          showSymbol: false, symbol: 'none', lineStyle: { color: '#ff0000', width: 2 }, z: 3, silent: true,
        },
        {
          type: 'scatter', xAxisIndex: 1, yAxisIndex: 1,
          data: toPairs(raScatter, 10, 1000).concat(toPairs(raScatterCore, 10, 1000)),
          symbolSize: 7, itemStyle: pointStyle, silent: true, z: 1, large: false,
        },
        {
          type: 'line', xAxisIndex: 1, yAxisIndex: 1, data: zip(raLineX, raLineY),
          showSymbol: false, symbol: 'none', lineStyle: { color: '#ff0000', width: 2 }, z: 3, silent: true,
        },
        ...regionBoundsRA.map((ra) => ({
          type: 'line', xAxisIndex: 1, yAxisIndex: 1, data: [[ra, -0.2], [ra, 0.2]],
          showSymbol: false, symbol: 'none', lineStyle: { color: '#ff0000', width: 2, type: [6, 3] }, z: 4, silent: true,
        })),
        {
          type: 'scatter', xAxisIndex: 1, yAxisIndex: 1, symbolSize: 0, silent: true, z: 5,
          data: regionNames.map((n, i) => ({ name: n, value: [regionLabelRA[i], regionLabelLevel] })),
          label: { show: true, position: 'inside', formatter: '{b}', color: '#ff0000', fontSize: 11, fontFamily: FONT },
        },
      ],
    };
    chart.setOption(option);
    return () => chart.dispose();
  }, []);
  return (
    <div
      ref={ref}
      style={{ position: 'fixed', left: 0, top: 0, width: 648, height: 504, background: '#fff' }}
    />
  );
}
